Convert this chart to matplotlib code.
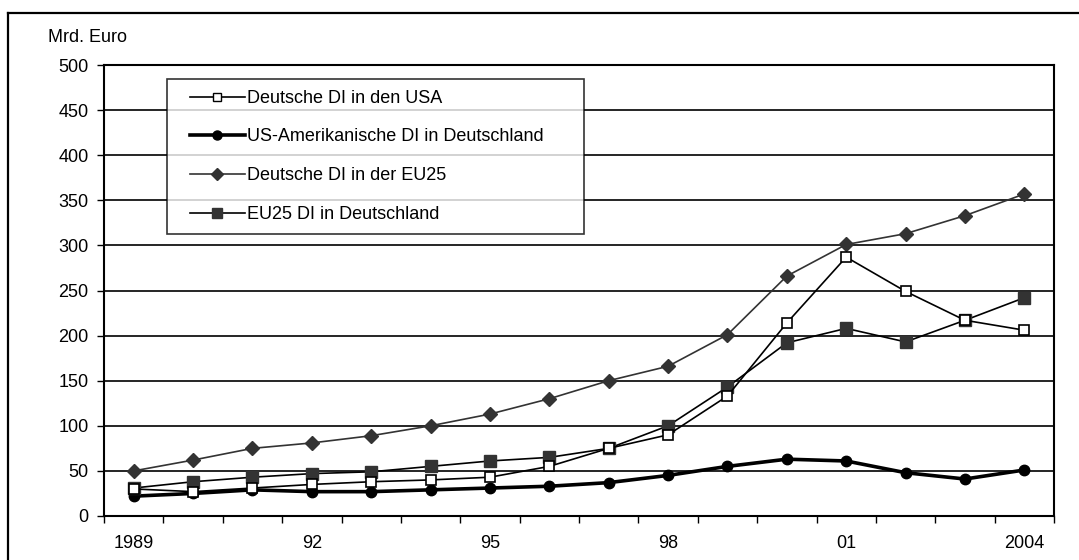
import matplotlib as mpl
mpl.use('agg')
import matplotlib.pyplot as plt
import numpy as np
from matplotlib.lines import Line2D
from matplotlib.legend_handler import HandlerLine2D

plt.rc('font', family='Liberation Sans', size=13)

years = list(range(1989, 2005))
year_labels = ["1989", "", "", "92", "", "", "95", "", "", "98", "", "", "01", "", "", "2004"]

# Mrd. Euro
de_in_usa = [30, 27, 31, 35, 38, 40, 43, 55, 75, 90, 133, 214, 287, 249, 217, 206]
us_in_de = [22, 25, 29, 27, 27, 29, 31, 33, 37, 45, 55, 63, 61, 48, 41, 51]
de_in_eu25 = [50, 62, 75, 81, 89, 100, 113, 130, 150, 166, 201, 266, 301, 313, 333, 357]
eu25_in_de = [31, 38, 43, 47, 49, 55, 61, 65, 75, 100, 143, 192, 208, 193, 217, 242]

labels = ["Deutsche DI in den USA",
          "US-Amerikanische DI in Deutschland",
          "Deutsche DI in der EU25",
          "EU25 DI in Deutschland"]

fig = plt.figure(figsize=(10.79, 5.60), dpi=100)
ax = fig.add_axes([104 / 1079, 1 - 516 / 560, 950 / 1079, 451 / 560])

x = np.arange(len(years))
ax.plot(x, de_in_usa, color='black', lw=1.2, marker='s', ms=7,
        mfc='white', mec='black', mew=1.2, zorder=4)
ax.plot(x, us_in_de, color='black', lw=2.6, marker='o', ms=7.5,
        mfc='black', mec='black', zorder=3)
ax.plot(x, de_in_eu25, color='#333333', lw=1.2, marker='D', ms=7,
        mfc='#333333', mec='#333333', zorder=3)
ax.plot(x, eu25_in_de, color='black', lw=1.2, marker='s', ms=8,
        mfc='#333333', mec='#333333', zorder=3)

ax.set_xlim(-0.5, len(years) - 0.5)
ax.set_ylim(0, 500)
ax.set_yticks(np.arange(0, 501, 50))
ax.yaxis.grid(True, color='black', lw=1.2)
ax.set_axisbelow(True)

ax.set_xticks(x)
ax.set_xticklabels(year_labels)
ax.tick_params(axis='x', length=0, pad=14)
ax.set_xticks(np.arange(-0.5, len(years)), minor=True)
ax.tick_params(axis='x', which='minor', length=5, width=1, direction='out')
ax.tick_params(axis='y', length=5, width=1, direction='out', pad=6)

for s in ax.spines.values():
    s.set_linewidth(1.5)
    s.set_color('black')

handles = [
    Line2D([], [], color='black', lw=1.2, marker='s', ms=6, mfc='white', mec='black'),
    Line2D([], [], color='black', lw=2.6, marker='o', ms=6.5, mfc='black', mec='black'),
    Line2D([], [], color='#333333', lw=1.2, marker='D', ms=6, mfc='#333333', mec='#333333'),
    Line2D([], [], color='black', lw=1.2, marker='s', ms=6.5, mfc='#333333', mec='#333333'),
]
hmap = {h: HandlerLine2D(xpad=0.67) for h in handles}
leg = fig.legend(handles, labels, loc='upper left', mode='expand',
                 bbox_to_anchor=(167 / 1079, 1 - 79 / 560, (584 - 167) / 1079, 0),
                 bbox_transform=fig.transFigure, handler_map=hmap,
                 frameon=True, fancybox=False, edgecolor='black',
                 handlelength=3.7, handletextpad=0.15, labelspacing=1.2,
                 borderpad=0.6, borderaxespad=0, fontsize=13)
leg.get_frame().set_linewidth(1.2)
leg.set_zorder(10)

fig.text(48 / 1079, 1 - 37 / 560, "Mrd. Euro", ha='left', va='center', fontsize=13)

# outer frame
fig.add_artist(Line2D([8 / 1079, 1.0], [1 - 13 / 560, 1 - 13 / 560],
                      transform=fig.transFigure, color='black', lw=1.6))
fig.add_artist(Line2D([8 / 1079, 8 / 1079], [0, 1 - 13 / 560],
                      transform=fig.transFigure, color='black', lw=1.6))

fig.savefig("out.png", dpi=100)
